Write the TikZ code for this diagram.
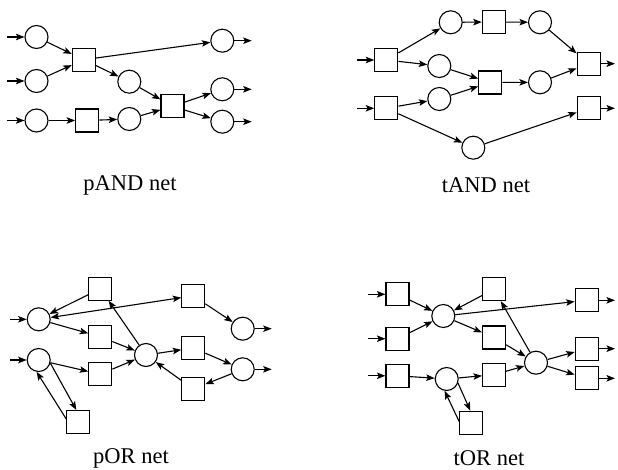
\documentclass[tikz,border=0pt]{standalone}
\usepackage{fontspec}
\setmainfont{Liberation Serif}
\usetikzlibrary{arrows.meta}
\begin{document}
\begin{tikzpicture}[x=1pt,y=-1pt,
  pl/.style={circle,draw,line width=1.1pt,minimum size=23pt,inner sep=0pt},
  tr/.style={rectangle,draw,line width=1.1pt,minimum size=23pt,inner sep=0pt},
  ar/.style={line width=1.1pt,-{Stealth[length=8.5pt,width=6.5pt,inset=1.8pt]}},
  ar2/.style={line width=1.1pt,{Stealth[length=8.5pt,width=6.5pt,inset=1.8pt]}-{Stealth[length=8.5pt,width=6.5pt,inset=1.8pt]}},
  lab/.style={font=\fontsize{22.5}{26}\selectfont,inner sep=0pt}]
\useasboundingbox (0,0) rectangle (618,470);
% ---------- pAND net
\node[pl] (p1) at (36.5,37) {};
\node[pl] (p2) at (36.5,81) {};
\node[pl] (p3) at (36.5,120.5) {};
\node[tr] (t1) at (83.8,59.7) {};
\node[tr] (t2) at (87.2,120.5) {};
\node[pl] (p4) at (129.3,81.7) {};
\node[pl] (p5) at (129.3,119) {};
\node[tr] (t3) at (172.5,106.3) {};
\node[pl] (p6) at (222.3,40.7) {};
\node[pl] (p7) at (222.3,89.3) {};
\node[pl] (p8) at (222.3,121.7) {};
\coordinate (pi1) at (7,37); \coordinate (pi2) at (7,81); \coordinate (pi3) at (7,120.5);
\coordinate (po1) at (251.7,40.7); \coordinate (po2) at (251.7,89.3); \coordinate (po3) at (251.7,121.7);
\draw[ar] (pi1) -- (p1); \draw[ar] (pi2) -- (p2); \draw[ar] (pi3) -- (p3);
\draw[ar] (p1) -- (t1); \draw[ar] (p2) -- (t1);
\draw[ar] (t1) -- (p6); \draw[ar] (t1) -- (p4);
\draw[ar] (p3) -- (t2); \draw[ar] (t2) -- (p5);
\draw[ar] (p4) -- (t3); \draw[ar] (p5) -- (t3);
\draw[ar] (t3) -- (p7); \draw[ar] (t3) -- (p8);
\draw[ar] (p6) -- (po1); \draw[ar] (p7) -- (po2); \draw[ar] (p8) -- (po3);
\node[lab] (l1) at (130,185) {pAND net};
% ---------- tAND net
\node[tr] (A) at (386.3,60) {};
\node[tr] (B) at (386.3,108.3) {};
\node[pl] (c1) at (450.7,22.3) {};
\node[tr] (s1) at (493.8,22) {};
\node[pl] (c2) at (540,22.3) {};
\node[pl] (c3) at (439.3,66) {};
\node[pl] (c4) at (439.3,99) {};
\node[tr] (s2) at (490.3,82.5) {};
\node[pl] (c5) at (540,82.3) {};
\node[tr] (s3) at (588.7,63.7) {};
\node[tr] (s4) at (588.7,108.3) {};
\node[pl] (c6) at (473.3,147.7) {};
\coordinate (ti1) at (357.3,60); \coordinate (ti2) at (357.3,108.3);
\coordinate (to1) at (615,63.7); \coordinate (to2) at (615,108.3);
\draw[ar] (ti1) -- (A); \draw[ar] (ti2) -- (B);
\draw[ar] (A) -- (c1); \draw[ar] (A) -- (c3);
\draw[ar] (B) -- (c4); \draw[ar] (B) -- (c6);
\draw[ar] (c1) -- (s1); \draw[ar] (s1) -- (c2); \draw[ar] (c2) -- (s3);
\draw[ar] (c3) -- (s2); \draw[ar] (c4) -- (s2); \draw[ar] (s2) -- (c5);
\draw[ar] (c5) -- (s3); \draw[ar] (c6) -- (s4);
\draw[ar] (s3) -- (to1); \draw[ar] (s4) -- (to2);
\node[lab] (l2) at (486,185) {tAND net};
% ---------- pOR net
\node[pl] (q1) at (38.7,319.3) {};
\node[pl] (q2) at (38.7,360) {};
\node[tr] (r1) at (100.3,288.7) {};
\node[tr] (r2) at (100.3,336.7) {};
\node[tr] (r3) at (100.3,374.2) {};
\node[tr] (r4) at (78.3,422) {};
\node[pl] (q3) at (146,355) {};
\node[tr] (r5) at (193.3,295.8) {};
\node[tr] (r6) at (193.3,348) {};
\node[tr] (r7) at (193.3,389) {};
\node[pl] (q4) at (242.7,328.7) {};
\node[pl] (q5) at (242.7,369.3) {};
\coordinate (qi1) at (10,319.3); \coordinate (qi2) at (10,360);
\coordinate (qo1) at (271.7,328.7); \coordinate (qo2) at (271.7,369.3);
\draw[ar] (qi1) -- (q1); \draw[ar] (qi2) -- (q2);
\draw[ar] (r1) -- (q1); \draw[ar2] (q1) -- (r5);
\draw[ar] (q1) -- (r2); \draw[ar] (r2) -- (q3);
\draw[ar] (q2) -- (r3); \draw[ar] (r3) -- (q3);
\draw[ar] (q3) -- (r1); \draw[ar] (q3) -- (r6); \draw[ar] (r7) -- (q3);
\draw[ar] (r6) -- (q5); \draw[ar] (q5) -- (r7); \draw[ar] (r5) -- (q4);
\draw[ar] (q2.-15) -- ([xshift=-2pt]r4.north);
\draw[ar] ([yshift=3pt]r4.west) -- (q2.-100);
\draw[ar] (q4) -- (qo1); \draw[ar] (q5) -- (qo2);
\node[lab] (l3) at (131,458) {pOR net};
% ---------- tOR net
\node[tr] (u1) at (397.5,294.3) {};
\node[tr] (u2) at (397.5,338.7) {};
\node[tr] (u3) at (397.5,375.8) {};
\node[pl] (v1) at (443.3,316) {};
\node[pl] (v2) at (446.7,379) {};
\node[tr] (u4) at (494,289.2) {};
\node[tr] (u5) at (494,337.5) {};
\node[tr] (u6) at (494,374.7) {};
\node[tr] (u7) at (471.3,422.7) {};
\node[pl] (v3) at (536,362.7) {};
\node[tr] (u8) at (586.7,300.3) {};
\node[tr] (u9) at (586.7,348.7) {};
\node[tr] (u10) at (586.7,378.3) {};
\coordinate (ui1) at (368.3,294.3); \coordinate (ui2) at (368.3,338.7); \coordinate (ui3) at (368.3,375.8);
\coordinate (uo1) at (615,300.3); \coordinate (uo2) at (615,348.7); \coordinate (uo3) at (615,378.3);
\draw[ar] (ui1) -- (u1); \draw[ar] (ui2) -- (u2); \draw[ar] (ui3) -- (u3);
\draw[ar] (u1) -- (v1); \draw[ar] (u2) -- (v1); \draw[ar] (u4) -- (v1);
\draw[ar] (v1) -- (u8); \draw[ar] (v1) -- (u5);
\draw[ar] (u5) -- (v3); \draw[ar] (u6) -- (v3);
\draw[ar] (v3) -- (u4); \draw[ar] (v3) -- (u9); \draw[ar] (v3) -- (u10);
\draw[ar] (u3) -- (v2); \draw[ar] (v2) -- (u6);
\draw[ar] (v2.-20) -- ([xshift=-1pt]u7.north);
\draw[ar] ([yshift=1pt]u7.west) -- (v2.-100);
\draw[ar] (u8) -- (uo1); \draw[ar] (u9) -- (uo2); \draw[ar] (u10) -- (uo3);
\node[lab] (l4) at (489,458) {tOR net};
\end{tikzpicture}
\end{document}
